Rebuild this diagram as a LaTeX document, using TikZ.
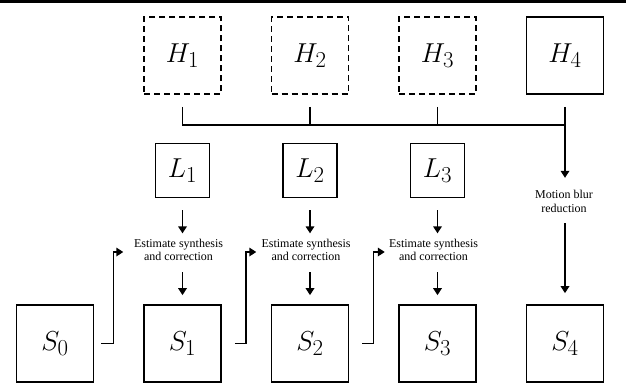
\documentclass[tikz,border=0pt]{standalone}
\usepackage{fontspec}
\usepackage{graphicx}
\setmainfont{Liberation Serif}
\usetikzlibrary{arrows.meta}
\newcommand{\boxlab}[1]{\scalebox{1.1}{$#1$}}
\begin{document}
\begin{tikzpicture}[x=1pt,y=1pt,
  box/.style={draw,line width=1.7pt,inner sep=0pt,minimum size=77pt,font=\fontsize{24.88}{30}\selectfont},
  dbox/.style={box,dash pattern=on 6pt off 4pt},
  lbox/.style={box,minimum size=54pt},
  lbl/.style={inner sep=0pt,align=center,font=\fontsize{12}{13.5}\selectfont},
  arr/.style={line width=1.7pt,-{Triangle[length=7pt,width=8.5pt]}},
  ln/.style={line width=1.7pt}]
\useasboundingbox (0,0) rectangle (626,-388);
\fill (0,0) rectangle (626,-3);
% top row
\node[dbox] (H1) at (182.5,-55.5) {\boxlab{H_1}};
\node[dbox] (H2) at (310,-55.5) {\boxlab{H_2}};
\node[dbox] (H3) at (437.5,-55.5) {\boxlab{H_3}};
\node[box]  (H4) at (565,-55.5) {\boxlab{H_4}};
% L row
\node[lbox] (L1) at (182.5,-170.5) {\boxlab{L_1}};
\node[lbox] (L2) at (310,-170.5) {\boxlab{L_2}};
\node[lbox] (L3) at (437.5,-170.5) {\boxlab{L_3}};
% text nodes
\node[lbl] (E1) at (178.5,-250) {Estimate synthesis\\and correction};
\node[lbl] (E2) at (306,-250) {Estimate synthesis\\and correction};
\node[lbl] (E3) at (433.5,-250) {Estimate synthesis\\and correction};
\node[lbl] (M) at (564,-201.5) {Motion blur\\reduction};
% bottom row
\node[box] (S0) at (55,-343.5) {\boxlab{S_0}};
\node[box] (S1) at (182.5,-343.5) {\boxlab{S_1}};
\node[box] (S2) at (310,-343.5) {\boxlab{S_2}};
\node[box] (S3) at (437.5,-343.5) {\boxlab{S_3}};
\node[box] (S4) at (565,-343.5) {\boxlab{S_4}};
% bracket
\coordinate (B1) at ([yshift=-30pt]H1.south);
\coordinate (B4) at ([yshift=-30pt]H4.south);
\draw[ln] ([yshift=-12pt]H1.south) -- (B1) -- (B4);
\draw[ln] ([yshift=-12pt]H2.south) -- ([yshift=-30pt]H2.south);
\draw[ln] ([yshift=-12pt]H3.south) -- ([yshift=-30pt]H3.south);
\draw[arr] ([yshift=-12pt]H4.south) -- ([yshift=-83pt]H4.south);
\draw[arr] ([yshift=81pt]S4.north) -- ([yshift=11pt]S4.north);
% vertical arrows
\foreach \i in {1,2,3}{
  \draw[arr] ([yshift=-12pt]L\i.south) -- ([yshift=-35pt]L\i.south);
  \draw[arr] ([yshift=32pt]S\i.north) -- ([yshift=9pt]S\i.north);
}
% elbows
\draw[arr] ([xshift=7pt]S0.east) -- ++(12pt,0) |- ([xshift=-10.5pt,yshift=-2pt]E1.west);
\draw[arr] ([xshift=13pt]S1.east) -- ++(11pt,0) |- ([xshift=-5pt,yshift=-2pt]E2.west);
\draw[arr] ([xshift=13pt]S2.east) -- ++(11pt,0) |- ([xshift=-4pt,yshift=-2pt]E3.west);
\end{tikzpicture}
\end{document}
